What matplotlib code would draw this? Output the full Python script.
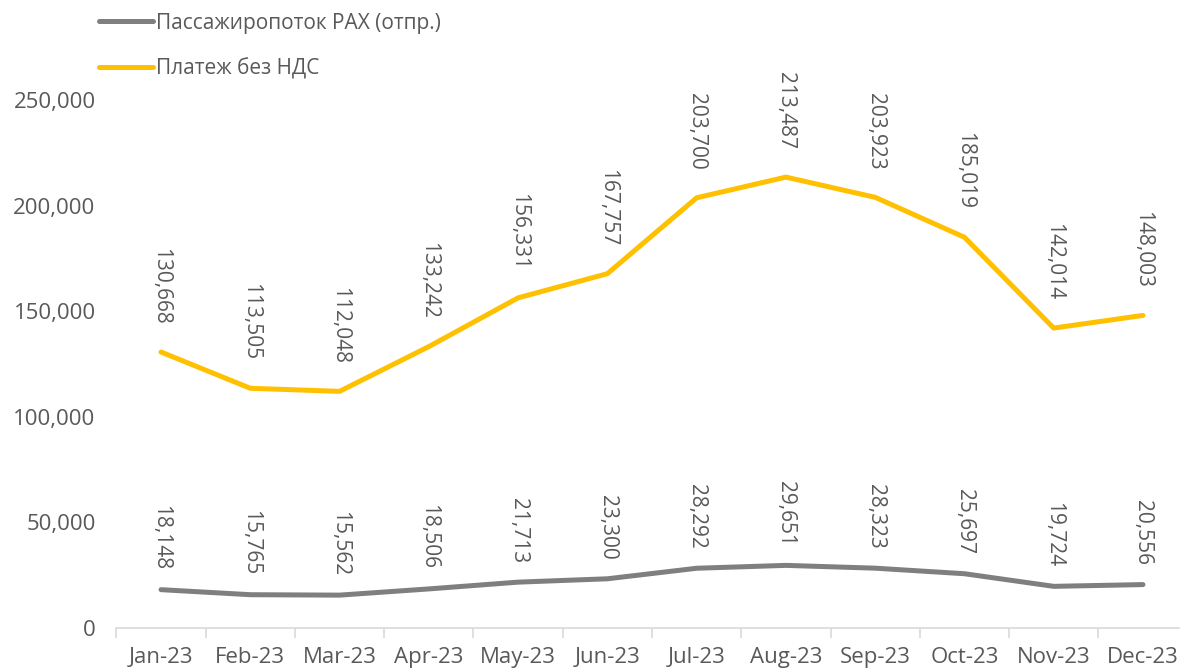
import matplotlib
matplotlib.use("Agg")
import matplotlib.pyplot as plt
import numpy as np

months = ["Jan-23", "Feb-23", "Mar-23", "Apr-23", "May-23", "Jun-23",
          "Jul-23", "Aug-23", "Sep-23", "Oct-23", "Nov-23", "Dec-23"]
pax = [18148, 15765, 15562, 18506, 21713, 23300, 28292, 29651, 28323, 25697, 19724, 20556]
payment = [130668, 113505, 112048, 133242, 156331, 167757, 203700, 213487, 203923, 185019, 142014, 148003]
pax_label = "Пассажиропоток PAX (отпр.)"
pay_label = "Платеж без НДС"

plt.rcParams['font.family'] = ['Open Sans', 'DejaVu Sans']
txt = "#595959"

W, H = 1180, 670
fig = plt.figure(figsize=(W / 100, H / 100), dpi=100)
left, right, top, bottom = 116.4, 1187.6, 100, 628
ax = fig.add_axes([left / W, 1 - bottom / H, (right - left) / W, (bottom - top) / H])

x = np.arange(len(months))
l1, = ax.plot(x, pax, color="#7F7F7F", lw=3.6, solid_capstyle="round", clip_on=False)
l2, = ax.plot(x, payment, color="#FFC000", lw=3.6, solid_capstyle="round", clip_on=False)

for xi, v in zip(x, pax):
    ax.annotate(f"{v:,}", (xi, v), xytext=(0, 14), textcoords="offset points",
                rotation=-90, ha="center", va="bottom", fontsize=15, color=txt,
                annotation_clip=False)
for xi, v in zip(x, payment):
    ax.annotate(f"{v:,}", (xi, v), xytext=(0, 20), textcoords="offset points",
                rotation=-90, ha="center", va="bottom", fontsize=15, color=txt,
                annotation_clip=False)

ax.set_xlim(-0.5, len(months) - 0.5)
ax.set_ylim(0, 250000)
ax.set_yticks(np.arange(0, 250001, 50000))
ax.set_yticklabels([f"{t:,}" for t in range(0, 250001, 50000)])
ax.set_xticks(x)
ax.set_xticklabels(months)
ax.set_xticks(np.arange(-0.5, len(months), 1), minor=True)
ax.tick_params(axis="x", which="major", length=0, pad=14, labelsize=16, labelcolor=txt)
ax.tick_params(axis="x", which="minor", length=7, width=1.2, color="#D9D9D9", direction="out")
ax.tick_params(axis="y", length=0, pad=15, labelsize=16, labelcolor=txt)
for s in ["top", "right", "left"]:
    ax.spines[s].set_visible(False)
ax.spines["bottom"].set_color("#D9D9D9")
ax.spines["bottom"].set_linewidth(1.2)

fig.legend([l1, l2], [pax_label, pay_label], loc="upper left",
           bbox_to_anchor=(80 / W, 1 + 6 / H), frameon=False, fontsize=15,
           labelcolor=txt, handlelength=2.6, handletextpad=0.15, labelspacing=1.15)

fig.savefig("out.png", dpi=100)
